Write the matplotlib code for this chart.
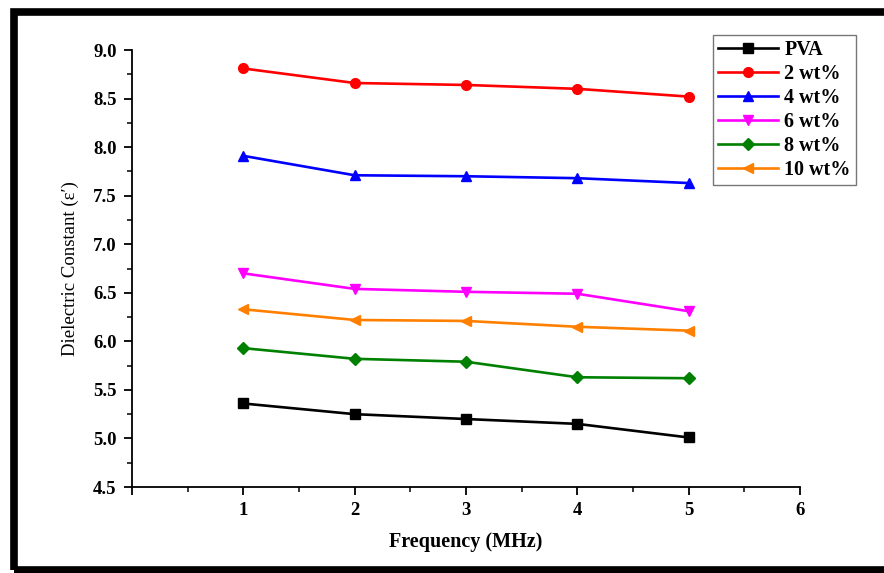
import matplotlib.pyplot as plt
from matplotlib.patches import Rectangle
from matplotlib.ticker import MultipleLocator

plt.rcParams["font.family"] = ["Liberation Serif", "DejaVu Serif"]

freq = [1, 2, 3, 4, 5]
pva = [5.36, 5.25, 5.20, 5.15, 5.01]
wt2 = [8.81, 8.66, 8.64, 8.60, 8.52]
wt4 = [7.91, 7.71, 7.70, 7.68, 7.63]
wt6 = [6.70, 6.54, 6.51, 6.49, 6.31]
wt8 = [5.93, 5.82, 5.79, 5.63, 5.62]
wt10 = [6.33, 6.22, 6.21, 6.15, 6.11]

series = [
    ("PVA", pva, "black", "s"),
    ("2 wt%", wt2, "#ff0000", "o"),
    ("4 wt%", wt4, "#0000ff", "^"),
    ("6 wt%", wt6, "#ff00ff", "v"),
    ("8 wt%", wt8, "#008000", "D"),
    ("10 wt%", wt10, "#ff8000", "<"),
]

fig = plt.figure(figsize=(8.84, 5.73), dpi=100)
ax = fig.add_axes([132 / 884, 1 - 487 / 573, 668 / 884, 437 / 573])

for label, vals, color, marker in series:
    ms = 6 if marker == "D" else 7
    ax.plot(freq, vals, color=color, marker=marker, ms=ms, lw=1.9, label=label)

ax.set_xlim(0, 6)
ax.set_ylim(4.5, 9.0)
ax.set_xticks([0, 1, 2, 3, 4, 5, 6])
ax.set_xticklabels(["", "1", "2", "3", "4", "5", "6"])
ax.xaxis.set_minor_locator(MultipleLocator(0.5))
ax.yaxis.set_major_locator(MultipleLocator(0.5))
ax.yaxis.set_minor_locator(MultipleLocator(0.25))
ax.yaxis.set_major_formatter(plt.FormatStrFormatter("%.1f"))

for side in ("top", "right"):
    ax.spines[side].set_visible(False)
for side in ("left", "bottom"):
    ax.spines[side].set_linewidth(1.3)

ax.tick_params(which="major", direction="out", length=6, width=1.3,
               labelsize=13.5, pad=5)
ax.tick_params(which="minor", direction="out", length=3.5, width=1.1)
for lab in ax.get_xticklabels() + ax.get_yticklabels():
    lab.set_fontweight("bold")

ax.set_xlabel("Frequency (MHz)", fontsize=14.5, fontweight="bold", labelpad=9)
ax.set_ylabel("Dielectric Constant (ε′)", fontsize=13.5, labelpad=10)

leg = fig.legend(loc="upper left", bbox_to_anchor=(713 / 884, 1 - 35 / 573),
                 prop={"weight": "bold", "size": 14.5}, handlelength=3.0,
                 handletextpad=0.3, labelspacing=0.2, borderpad=0.25,
                 fancybox=False, edgecolor="#555555", borderaxespad=0)
leg.get_frame().set_linewidth(1.0)

# thick black picture frame
fig.patches.append(Rectangle((13.5 / 884, 3 / 573), 1.2, 1 - 12 / 573 - 3 / 573,
                             transform=fig.transFigure, fill=False,
                             edgecolor="black", lw=5.5, clip_on=False))

fig.savefig("out.png", dpi=100)
